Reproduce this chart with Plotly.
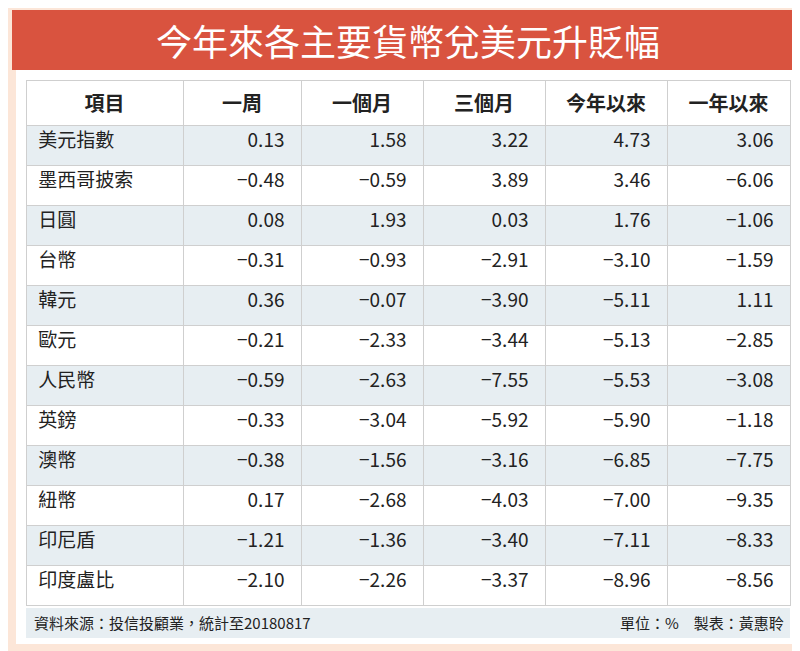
import plotly.graph_objects as go

W, H = 800, 651
headers = ["項目", "一周", "一個月", "三個月", "今年以來", "一年以來"]
items = ["美元指數", "墨西哥披索", "日圓", "台幣", "韓元", "歐元", "人民幣", "英鎊", "澳幣", "紐幣", "印尼盾", "印度盧比"]
week = [0.13, -0.48, 0.08, -0.31, 0.36, -0.21, -0.59, -0.33, -0.38, 0.17, -1.21, -2.10]
month1 = [1.58, -0.59, 1.93, -0.93, -0.07, -2.33, -2.63, -3.04, -1.56, -2.68, -1.36, -2.26]
month3 = [3.22, 3.89, 0.03, -2.91, -3.90, -3.44, -7.55, -5.92, -3.16, -4.03, -3.40, -3.37]
ytd = [4.73, 3.46, 1.76, -3.10, -5.11, -5.13, -5.53, -5.90, -6.85, -7.00, -7.11, -8.96]
year1 = [3.06, -6.06, -1.06, -1.59, 1.11, -2.85, -3.08, -1.18, -7.75, -9.35, -8.33, -8.56]
title = "今年來各主要貨幣兌美元升貶幅"
source = "資料來源：投信投顧業，統計至20180817"
unit = "單位：%　製表：黃惠聆"

def fmt(v):
    return f"{v:.2f}".replace("-", "−") + "  "

cols = [[" " + s for s in items]] + [[fmt(v) for v in c] for c in (week, month1, month3, ytd, year1)]
blue, white = "#e7eef2", "#ffffff"
rowfill = [blue if i % 2 == 0 else white for i in range(len(items))]

font = "Noto Sans CJK TC, sans-serif"
fig = go.Figure(go.Table(
    domain=dict(x=[18 / W, 782 / W], y=[1 - 600 / H, 1 - 72 / H]),
    columnwidth=[157, 118, 122, 122, 122, 123],
    header=dict(values=[f"<b>{h}</b>" for h in headers], height=40,
                fill_color=white, line=dict(color="#cfcfcf", width=1),
                align="center", font=dict(family=font, size=20, color="#222")),
    cells=dict(values=cols, height=40,
               fill_color=[rowfill] * 6, line=dict(color="#cfcfcf", width=1),
               align=["left"] + ["right"] * 5,
               font=dict(family=font, size=19, color="#222")),
))

fig.update_layout(
    width=W, height=H, margin=dict(l=0, r=0, t=0, b=0),
    paper_bgcolor="#fce6d8", plot_bgcolor="#fce6d8",
    shapes=[
        dict(type="rect", xref="paper", yref="paper", x0=4 / W, x1=796 / W,
             y0=1 - 62 / H, y1=1 - 2 / H, fillcolor="#d9533f", line_width=0, layer="below"),
        dict(type="rect", xref="paper", yref="paper", x0=8 / W, x1=792 / W,
             y0=1 - 636 / H, y1=1 - 62 / H, fillcolor="#ffffff", line_width=0, layer="below"),
        dict(type="rect", xref="paper", yref="paper", x0=18 / W, x1=782 / W,
             y0=1 - 630 / H, y1=1 - 600 / H, fillcolor=blue, line_width=0, layer="below"),
    ],
    annotations=[
        dict(text=title, x=0.5, y=1 - 32 / H, xref="paper", yref="paper", showarrow=False,
             yanchor="middle", font=dict(family=font, size=36, color="white")),
        dict(text=source, x=24 / W, y=1 - 614 / H, xref="paper", yref="paper", showarrow=False,
             xanchor="left", yanchor="middle", font=dict(family=font, size=15, color="#222")),
        dict(text=unit, x=778 / W, y=1 - 614 / H, xref="paper", yref="paper", showarrow=False,
             xanchor="right", yanchor="middle", font=dict(family=font, size=15, color="#222")),
    ],
)
fig.write_html("out.html")
